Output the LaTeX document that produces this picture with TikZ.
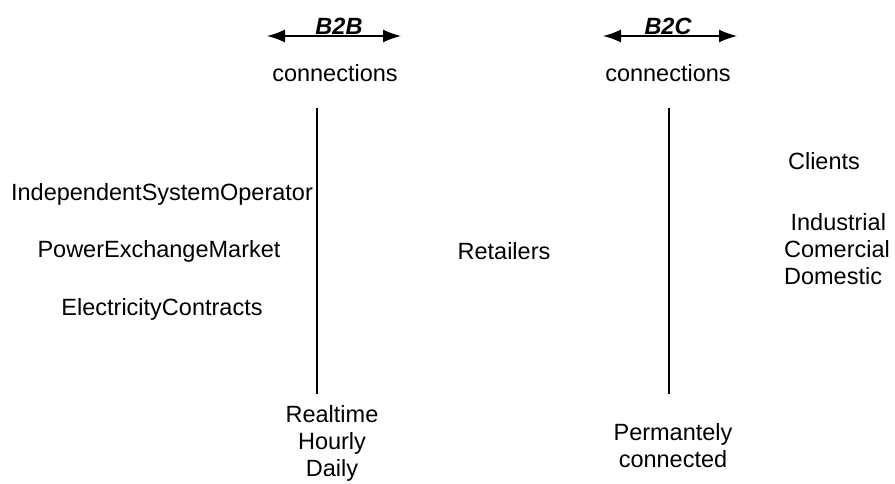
\documentclass[tikz,border=0pt]{standalone}
\usepackage{fontspec}
\setmainfont{Liberation Sans}
\usetikzlibrary{positioning,arrows.meta}

\begin{document}
\begin{tikzpicture}[x=1pt,y=-1pt,
        textnode/.style={inner sep=0pt, align=center, font=\fontsize{23.5}{27}\selectfont},
        tagnode/.style={inner sep=0pt, anchor=base, font=\fontsize{23.5}{27}\selectfont\bfseries\itshape},
        linkarrow/.style={{Latex[length=18pt,width=13pt]}-{Latex[length=18pt,width=13pt]}, line width=1.5pt},
        divider/.style={line width=1.3pt}]

        \useasboundingbox (0,0) rectangle (895,483);

        % arrows on top
        \coordinate (b2bl) at (267,36);
        \coordinate (b2br) at (401,36);
        \coordinate (b2cl) at (603,36);
        \coordinate (b2cr) at (737,36);
        \draw[linkarrow] (b2bl) -- (b2br);
        \draw[linkarrow] (b2cl) -- (b2cr);
        \node[tagnode] (b2b) at (339,34) {B2B};
        \node[tagnode] (b2c) at (668,34) {B2C};
        \node[textnode] (conn1) at (335,73) {connections};
        \node[textnode] (conn2) at (668,73) {connections};

        % the two dividing lines
        \coordinate (topl) at (317,108);
        \coordinate (botl) at (317,394);
        \coordinate (topr) at (669,108);
        \coordinate (botr) at (669,394);
        \draw[divider] (topl) -- (botl);
        \draw[divider] (topr) -- (botr);

        % left side
        \node[textnode] (iso) at (162,194) {IndependentSystemOperator};
        \node[textnode] (pem) at (159,251) {PowerExchangeMarket};
        \node[textnode] (ec) at (162,309) {ElectricityContracts};

        % middle
        \node[textnode] (ret) at (504,251) {Retailers};

        % right side
        \node[textnode] (cli) at (824,161) {Clients};
        \node[textnode, align=left] (kinds) at (837,249) {\ Industrial\\Comercial\\Domestic};

        % bottom
        \node[textnode] (freq) at (332,443) {Realtime\\Hourly\\Daily};
        \node[textnode] (perm) at (673,446) {Permantely\\connected};

\end{tikzpicture}
\end{document}
